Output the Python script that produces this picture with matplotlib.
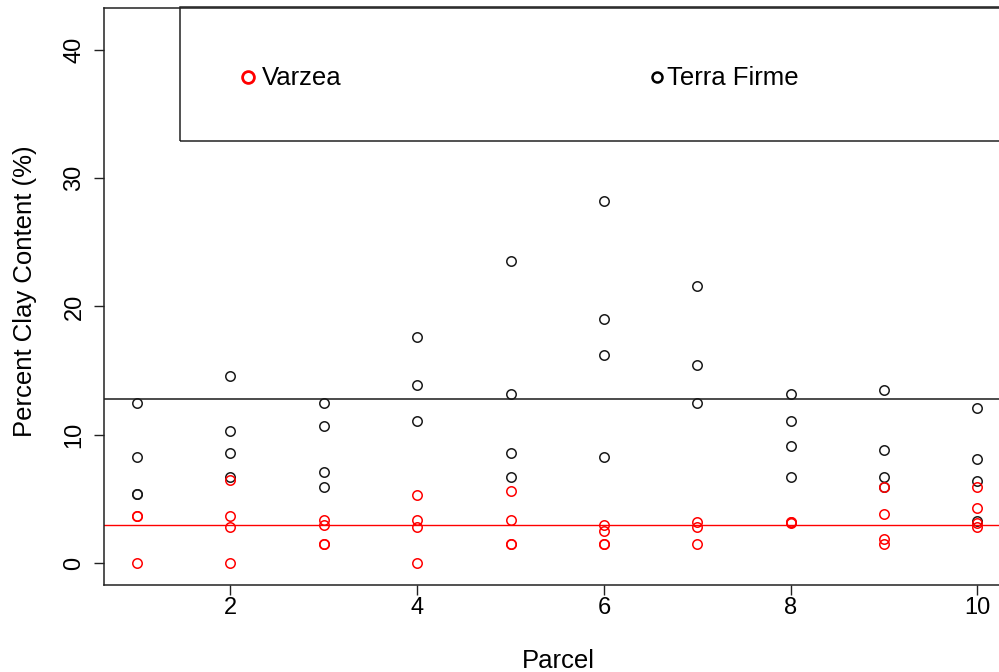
import matplotlib
matplotlib.use("Agg")
import matplotlib.pyplot as plt
from matplotlib.patches import Rectangle

plt.rcParams['font.family'] = ['Liberation Sans', 'DejaVu Sans']

# ---- data ----
parcels = [1, 2, 3, 4, 5, 6, 7, 8, 9, 10]

terra_firme = {
    1: [12.5, 8.3, 5.4, 5.4],
    2: [14.6, 10.3, 8.6, 6.7],
    3: [12.5, 10.7, 7.1, 5.9],
    4: [17.6, 13.9, 11.1],
    5: [23.5, 13.2, 8.6, 6.7],
    6: [28.2, 19.0, 16.2, 8.3],
    7: [21.6, 15.4, 12.5],
    8: [13.2, 11.1, 9.1, 6.7],
    9: [13.5, 8.8, 6.7, 5.9],
    10: [12.1, 8.1, 6.4, 3.3],
}

varzea = {
    1: [3.7, 3.7, 0.0],
    2: [6.5, 3.7, 2.8, 0.0],
    3: [3.4, 3.0, 1.5, 1.5],
    4: [5.3, 3.4, 2.8, 0.0],
    5: [5.6, 3.4, 1.5, 1.5],
    6: [3.0, 2.5, 1.5, 1.5],
    7: [3.2, 2.8, 1.5],
    8: [3.2, 3.1, 3.2],
    9: [5.9, 3.8, 1.9, 1.5],
    10: [5.9, 4.3, 3.1, 2.8],
}

terra_firme_mean = 12.77
varzea_mean = 2.96

x_ticks = [2, 4, 6, 8, 10]
y_ticks = [0, 10, 20, 30, 40]
legend_labels = ["Varzea", "Terra Firme"]

# ---- figure ----
W, H = 999, 672
fig = plt.figure(figsize=(W / 100, H / 100), dpi=100)
L, R, T, B = 103.5, 1011.0, 7.5, 584.5
ax = fig.add_axes([L / W, (H - B) / H, (R - L) / W, (B - T) / H])

def to_ax(px, py):
    return (px - L) / (R - L), (B - py) / (B - T)

tx, ty, vx, vy = [], [], [], []
for p in parcels:
    for v in terra_firme[p]:
        tx.append(p); ty.append(v)
    for v in varzea[p]:
        vx.append(p); vy.append(v)

ax.plot(tx, ty, linestyle='none', marker='o', ms=6.8, mfc='none',
        mec='#1a1a1a', mew=1.1)
ax.plot(vx, vy, linestyle='none', marker='o', ms=6.8, mfc='none',
        mec='red', mew=1.1)

ax.axhline(terra_firme_mean, color='#1a1a1a', lw=1.1)
ax.axhline(varzea_mean, color='red', lw=1.0)

ax.set_xlim(0.64, 10.36)
ax.set_ylim(-1.66, 43.28)
ax.set_xticks(x_ticks)
ax.set_yticks(y_ticks)
TICK_FS = 17
LAB_FS = 18.5
ax.set_xticklabels([str(t) for t in x_ticks], fontsize=TICK_FS)
ax.set_yticklabels([str(t) for t in y_ticks], fontsize=TICK_FS, rotation=90,
                   va='center')
ax.tick_params(axis='both', direction='out', length=7.5, width=1.0,
               color='#222222')
ax.tick_params(axis='x', pad=1.5)
ax.tick_params(axis='y', pad=5.5)
for s in ax.spines.values():
    s.set_linewidth(1.1)
    s.set_color('#222222')

fig.text(25 / W, 1 - 291 / H, "Percent Clay Content (%)", rotation=90,
         ha='center', va='center', fontsize=LAB_FS)
fig.text(558 / W, 1 - 661 / H, "Parcel", ha='center', va='center',
         fontsize=LAB_FS)

# ---- legend (R style, horizontal, top-right box) ----
x0, y0 = to_ax(180, 141)
ax.add_patch(Rectangle((x0, y0), 1.0 - x0, 1.0 - y0, transform=ax.transAxes,
                       fill=False, ec='#222222', lw=1.1, clip_on=False))
mx, my = to_ax(248, 76.5)
ax.plot([mx], [my], transform=ax.transAxes, marker='o', ms=8.5, mfc='none',
        mec='red', mew=2.0, clip_on=False)
lx, ly = to_ax(262, 78)
ax.text(lx, ly, legend_labels[0], transform=ax.transAxes, ha='left',
        va='center', fontsize=LAB_FS)
mx2, my2 = to_ax(657, 76.5)
ax.plot([mx2], [my2], transform=ax.transAxes, marker='o', ms=7.2, mfc='none',
        mec='black', mew=1.8, clip_on=False)
lx2, ly2 = to_ax(667, 78)
ax.text(lx2, ly2, legend_labels[1], transform=ax.transAxes, ha='left',
        va='center', fontsize=LAB_FS)

fig.savefig("out.png", dpi=100)
